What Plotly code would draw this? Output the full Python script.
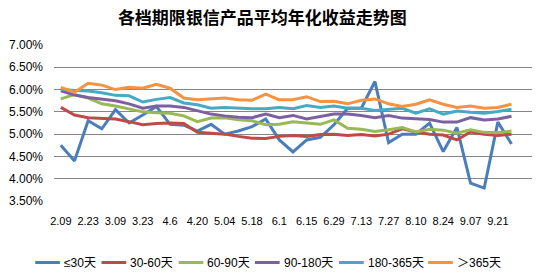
import plotly.graph_objects as go

dates = ["2.09", "2.16", "2.23", "3.02", "3.09", "3.16", "3.23", "3.30", "4.6", "4.13",
         "4.20", "4.27", "5.04", "5.11", "5.18", "5.25", "6.1", "6.8", "6.15", "6.22",
         "6.29", "7.06", "7.13", "7.20", "7.27", "8.03", "8.10", "8.17", "8.24", "8.31",
         "9.07", "9.14", "9.21", "9.28"]
tick_dates = dates[::2]

le30 = [4.75, 4.40, 5.30, 5.12, 5.55, 5.25, 5.43, 5.62, 5.22, 5.20, 5.07, 5.22, 5.00, 5.07, 5.17, 5.34, 4.87,
        4.60, 4.87, 4.93, 5.21, 5.58, 5.58, 6.18, 4.81, 5.00, 5.00, 5.25, 4.61, 5.15, 3.90, 3.79, 5.27, 4.78]
d30_60 = [5.60, 5.43, 5.37, 5.35, 5.34, 5.28, 5.21, 5.24, 5.25, 5.24, 5.04, 5.02, 5.00, 4.95, 4.91, 4.90, 4.95,
          4.97, 4.95, 4.99, 5.00, 4.97, 4.99, 4.96, 5.00, 5.12, 5.05, 5.00, 4.98, 4.87, 5.05, 5.00, 4.97, 5.00]
d60_90 = [5.79, 5.89, 5.81, 5.68, 5.63, 5.57, 5.50, 5.48, 5.47, 5.41, 5.28, 5.36, 5.37, 5.32, 5.30, 5.21, 5.22,
          5.28, 5.25, 5.22, 5.32, 5.13, 5.11, 5.06, 5.10, 5.15, 5.05, 5.11, 5.09, 5.02, 5.10, 5.04, 5.03, 5.07]
d90_180 = [5.97, 5.88, 5.82, 5.78, 5.75, 5.68, 5.58, 5.63, 5.63, 5.60, 5.53, 5.45, 5.41, 5.38, 5.37, 5.45, 5.37,
           5.42, 5.34, 5.40, 5.45, 5.45, 5.42, 5.37, 5.42, 5.36, 5.34, 5.33, 5.27, 5.27, 5.37, 5.32, 5.34, 5.40]
d180_365 = [6.01, 5.98, 5.97, 5.93, 5.87, 5.86, 5.72, 5.78, 5.82, 5.70, 5.66, 5.58, 5.60, 5.58, 5.57, 5.57, 5.60,
            5.57, 5.64, 5.60, 5.63, 5.58, 5.58, 5.53, 5.56, 5.58, 5.47, 5.57, 5.45, 5.52, 5.49, 5.47, 5.51, 5.56]
gt365 = [6.05, 5.94, 6.14, 6.10, 6.00, 6.05, 6.03, 6.12, 6.03, 5.81, 5.77, 5.79, 5.81, 5.77, 5.76, 5.90, 5.77,
         5.77, 5.84, 5.73, 5.74, 5.68, 5.76, 5.79, 5.68, 5.62, 5.67, 5.77, 5.67, 5.60, 5.63, 5.58, 5.60, 5.67]

series_names = ["≤30天", "30-60天", "60-90天", "90-180天", "180-365天", "＞365天"]
series_values = [le30, d30_60, d60_90, d90_180, d180_365, gt365]
colors = ["#4A7EBB", "#BE4B48", "#98B954", "#7D60A0", "#46AAC5", "#F69240"]

y_ticks = [3.5, 4.0, 4.5, 5.0, 5.5, 6.0, 6.5, 7.0]
y_tick_text = ["3.50%", "4.00%", "4.50%", "5.00%", "5.50%", "6.00%", "6.50%", "7.00%"]

W, H = 541, 274
L, R, T, B = 49, 9, 45, 73
pw, ph = W - L - R, H - T - B

fig = go.Figure()
for name, vals, c in zip(series_names, series_values, colors):
    fig.add_trace(go.Scatter(x=dates, y=vals, mode="lines", name=name,
                             line=dict(color=c, width=3), showlegend=False))

# manual legend (line sample + real text)
leg_line_x = [30, 97, 175, 252, 337, 427]
leg_y_px = 262.5
def px_x(p):
    return (p - L) / pw
def px_y(p):
    return (H - B - p) / ph
for i, (name, c) in enumerate(zip(series_names, colors)):
    x0 = leg_line_x[i]
    fig.add_shape(type="line", xref="paper", yref="paper",
                  x0=px_x(x0), x1=px_x(x0 + 25), y0=px_y(leg_y_px), y1=px_y(leg_y_px),
                  line=dict(color=c, width=3))
    fig.add_annotation(xref="paper", yref="paper", x=px_x(x0 + 27), y=px_y(leg_y_px),
                       xanchor="left", yanchor="middle", text=name, showarrow=False,
                       font=dict(family="Liberation Sans, Noto Sans CJK SC", size=12, color="#000000"))

fig.update_layout(
    width=W, height=H,
    margin=dict(l=L, r=R, t=T, b=B),
    paper_bgcolor="white", plot_bgcolor="white",
    title=dict(text="<b>各档期限银信产品平均年化收益走势图</b>", x=0.485, xref="container",
               xanchor="center", y=1 - 18.5 / H, yanchor="middle",
               font=dict(family="Noto Sans CJK SC", size=17, color="#000000")),
    xaxis=dict(type="category", categoryorder="array", categoryarray=dates,
               range=[-0.5, len(dates) + 0.5], tickmode="array", tickvals=tick_dates,
               ticktext=tick_dates, showgrid=False, showline=False, zeroline=False,
               ticks="", ticklabelstandoff=12,
               tickfont=dict(family="Liberation Sans", size=11, color="#000000")),
    yaxis=dict(range=[3.5, 7.0], tickmode="array", tickvals=y_ticks, ticktext=y_tick_text,
               showgrid=True, gridcolor="#868686", gridwidth=1, zeroline=False,
               showline=False, ticks="", ticklabelstandoff=10,
               tickfont=dict(family="Liberation Sans", size=12, color="#000000")),
)

fig.write_html("out.html")
